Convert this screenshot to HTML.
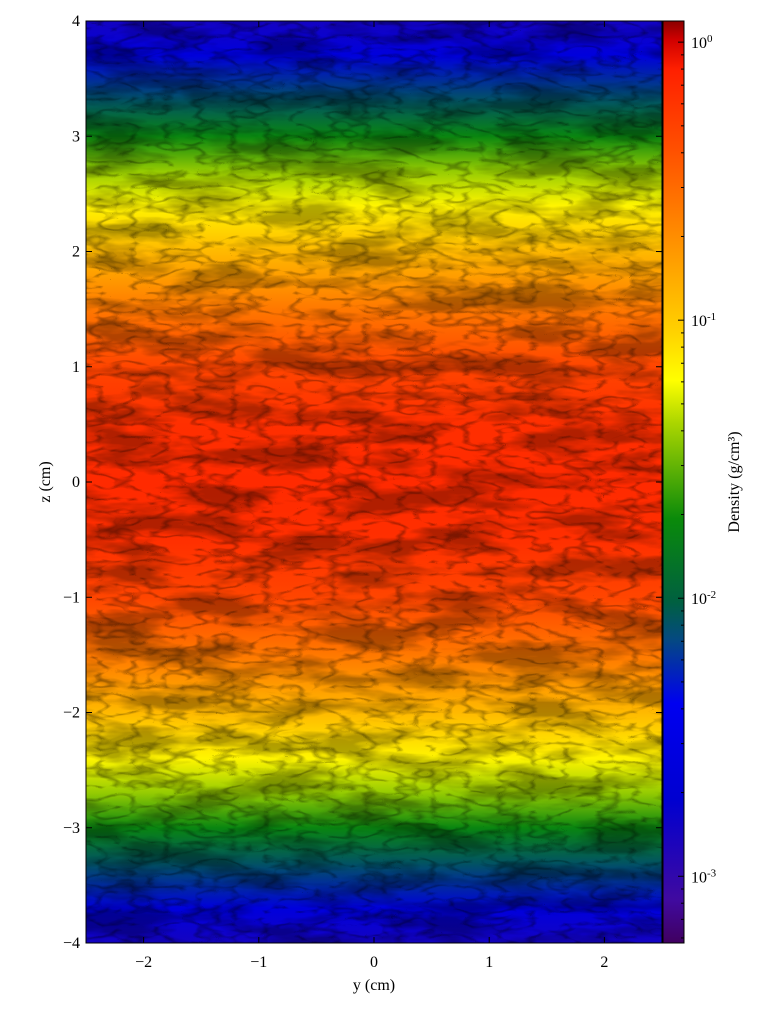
<!DOCTYPE html>
<html><head><meta charset="utf-8"><style>
body{margin:0;background:#fff;width:781px;height:1008px;overflow:hidden;font-family:"Liberation Serif",serif}
</style></head><body>
<svg id="chart" width="781" height="1008" xmlns="http://www.w3.org/2000/svg" font-family="Liberation Serif, serif">
<defs>
<linearGradient id="plotGrad" x1="0" y1="0" x2="0" y2="1"></linearGradient>
<linearGradient id="cbGrad" x1="0" y1="0" x2="0" y2="1"></linearGradient>
<filter id="tex" x="0" y="0" width="100%" height="100%">
<feTurbulence type="fractalNoise" baseFrequency="0.012 0.045" numOctaves="4" seed="7"/>
<feColorMatrix type="matrix" values="0 0 0 0 0  0 0 0 0 0  0 0 0 0 0  -4 0 0 0 2.3"/>
</filter>
<filter id="tex2" x="0" y="0" width="100%" height="100%">
<feTurbulence type="turbulence" baseFrequency="0.03 0.08" numOctaves="2" seed="3"/>
<feColorMatrix type="matrix" values="0 0 0 0 0  0 0 0 0 0  0 0 0 0 0  -5 0 0 0 1.1"/>
</filter>
</defs>
<g id="plot"></g>
</svg>
<script>
const zProfile=[4,3.7,3.3,3.0,2.7,2.4,2.0,1.5,1.0,0.5,0,-0.5,-1.0,-1.5,-2.0,-2.4,-2.7,-3.0,-3.3,-3.7,-4];
const logDensity=[-2.84,-2.58,-2.08,-1.75,-1.42,-1.18,-0.92,-0.59,-0.32,-0.19,-0.16,-0.19,-0.32,-0.59,-0.92,-1.18,-1.42,-1.75,-2.08,-2.58,-2.84];
const xTicks=[-2,-1,0,1,2];
const zTicks=[-4,-3,-2,-1,0,1,2,3,4];
const cbTickExp=[0,-1,-2,-3];
const cmapPos=[0,0.047,0.155,0.26,0.33,0.37,0.46,0.567,0.61,0.665,0.75,0.86,0.947,0.98,1];
const cmapCol=['#400060','#400aa0','#0000d0','#0000f0','#044a80','#006040','#0a8a0a','#b0d800','#ffff00','#ffd000','#ff9800','#ff5000','#ff2000','#d00000','#8a0000'];

const NS='http://www.w3.org/2000/svg';
const P={x0:86,x1:662,y0:21,y1:943};
const CB={x0:663,x1:684};
const logMin=-3.24,logMax=0.076;
const xs=v=>P.x0+(v+2.5)/5*(P.x1-P.x0);
const zs=v=>P.y0+(4-v)/8*(P.y1-P.y0);
const cs=l=>P.y1-(l-logMin)/(logMax-logMin)*(P.y1-P.y0);
function hex(h){return [1,3,5].map(i=>parseInt(h.substr(i,2),16));}
function cmap(f){f=Math.max(0,Math.min(1,f));for(let i=1;i<cmapPos.length;i++){if(f<=cmapPos[i]){const t=(f-cmapPos[i-1])/(cmapPos[i]-cmapPos[i-1]);const a=hex(cmapCol[i-1]),b=hex(cmapCol[i]);return 'rgb('+a.map((v,k)=>Math.round(v+(b[k]-v)*t)).join(',')+')';}}return cmapCol[cmapCol.length-1];}
function el(tag,attrs,parent){const e=document.createElementNS(NS,tag);for(const k in attrs)e.setAttribute(k,attrs[k]);(parent||document.getElementById('plot')).appendChild(e);return e;}
const pg=document.getElementById('plotGrad');
zProfile.forEach((z,i)=>{const f=(logDensity[i]-logMin)/(logMax-logMin);el('stop',{offset:((4-z)/8).toFixed(4),'stop-color':cmap(f)},pg);});
const cg=document.getElementById('cbGrad');
for(let i=cmapPos.length-1;i>=0;i--){el('stop',{offset:(1-cmapPos[i]).toFixed(4),'stop-color':cmapCol[i]},cg);}

const img=el('rect',{x:P.x0,y:P.y0,width:P.x1-P.x0,height:P.y1-P.y0,fill:'url(#plotGrad)'});


const t1=el('rect',{x:P.x0,y:P.y0,width:P.x1-P.x0,height:P.y1-P.y0,filter:'url(#tex)',opacity:'0.3'});


const t2=el('rect',{x:P.x0,y:P.y0,width:P.x1-P.x0,height:P.y1-P.y0,filter:'url(#tex2)',opacity:'0.3'});


const fr=el('rect',{x:P.x0,y:P.y0,width:P.x1-P.x0,height:P.y1-P.y0,fill:'none',stroke:'#000','stroke-width':1});



xTicks.forEach(v=>{const x=xs(v);
el('line',{x1:x,x2:x,y1:P.y1,y2:P.y1-6,stroke:'#000'});el('line',{x1:x,x2:x,y1:P.y0,y2:P.y0+6,stroke:'#000'});
const t=el('text',{x:x,y:967,'font-size':16,'text-anchor':'middle'});t.textContent=v<0?'\u2212'+(-v):v;

});
zTicks.forEach(v=>{const y=zs(v);
el('line',{x1:P.x0,x2:P.x0+6,y1:y,y2:y,stroke:'#000'});el('line',{x1:P.x1,x2:P.x1-6,y1:y,y2:y,stroke:'#000'});
const t=el('text',{x:80,y:y+5,'font-size':16,'text-anchor':'end'});t.textContent=v<0?'\u2212'+(-v):v;

});

const cb=el('rect',{x:CB.x0,y:P.y0,width:CB.x1-CB.x0,height:P.y1-P.y0,fill:'url(#cbGrad)',stroke:'#000','stroke-width':1});


cbTickExp.forEach(e=>{const y=cs(e);
el('line',{x1:CB.x1,x2:CB.x1-6,y1:y,y2:y,stroke:'#000'});
const t=el('text',{x:691,y:y+6,'font-size':16});t.textContent='10';
const s=el('tspan',{dy:-6,'font-size':11},t);s.textContent=e===0?'0':'-'+(-e);


for(let k=2;k<10;k++){const ym=cs(e+Math.log10(k));if(ym>P.y0&&ym<P.y1)el('line',{x1:CB.x1,x2:CB.x1-3,y1:ym,y2:ym,stroke:'#000'});}});
for(let k=5;k<10;k++){const ym=cs(-4+Math.log10(k));if(ym>P.y0&&ym<P.y1)el('line',{x1:CB.x1,x2:CB.x1-3,y1:ym,y2:ym,stroke:'#000'});}

const xl=el('text',{x:374,y:990,'font-size':16,'text-anchor':'middle'});xl.textContent='y  (cm)';


const zl=el('text',{x:0,y:0,'font-size':16,'text-anchor':'middle',transform:'translate(50,482) rotate(-90)'});zl.textContent='z  (cm)';


const cl=el('text',{x:0,y:0,'font-size':16,'text-anchor':'middle',transform:'translate(739,482) rotate(-90)'});cl.textContent='Density  (g/cm\u00b3)';


</script>
</body></html>
